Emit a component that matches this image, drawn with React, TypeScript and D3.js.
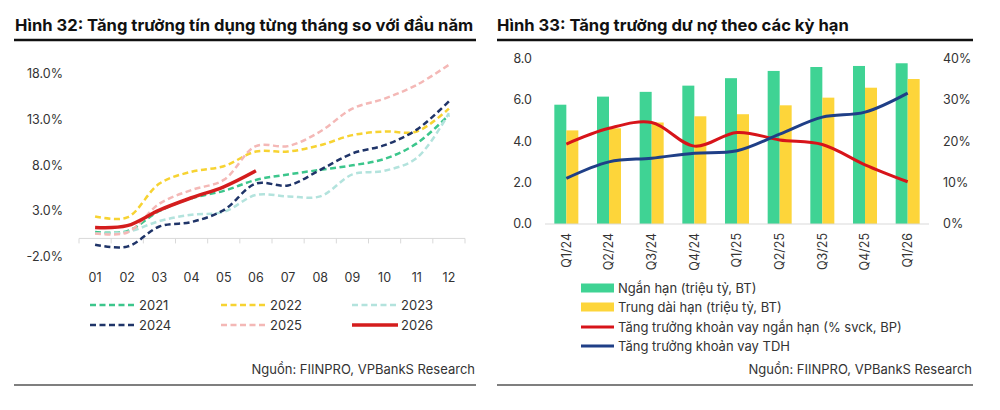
import React from 'react';
import * as d3 from 'd3';

// ---- Hình 32 data (% so với đầu năm) ----
const months = ['01', '02', '03', '04', '05', '06', '07', '08', '09', '10', '11', '12'];
const y2021 = [0.7, 0.8, 3.0, 4.4, 5.2, 6.4, 7.0, 7.5, 8.0, 8.7, 10.4, 13.5];
const y2022 = [2.4, 2.3, 6.0, 7.3, 7.9, 9.5, 9.5, 10.2, 11.3, 11.7, 11.7, 14.2];
const y2023 = [0.55, 0.7, 1.9, 2.6, 2.9, 4.75, 4.6, 4.6, 7.0, 7.4, 8.8, 13.7];
const y2024 = [-0.7, -0.9, 1.3, 1.8, 3.1, 6.0, 5.8, 7.5, 9.3, 10.2, 11.9, 15.0];
const y2025 = [0.55, 0.65, 3.8, 5.3, 6.4, 10.1, 10.1, 11.7, 14.2, 15.3, 16.8, 19.0];
const y2026 = [1.2, 1.4, 3.1, 4.45, 5.65, 7.4];
const leftTicks = [-2, 3, 8, 13, 18];

// ---- Hình 33 data ----
const quarters = ['Q1/24', 'Q2/24', 'Q3/24', 'Q4/24', 'Q1/25', 'Q2/25', 'Q3/25', 'Q4/25', 'Q1/26'];
const nganHan = [5.76, 6.15, 6.38, 6.68, 7.04, 7.39, 7.58, 7.63, 7.76];
const trungDaiHan = [4.52, 4.62, 4.9, 5.2, 5.3, 5.73, 6.1, 6.58, 7.0];
const tangTruongNH = [19.3, 23.1, 24.5, 18.8, 22.1, 20.3, 19.2, 14.3, 10.2];
const tangTruongTDH = [11.0, 15.0, 15.9, 17.1, 17.7, 21.7, 25.8, 27.0, 31.6];
const barTicks = [0, 2, 4, 6, 8];
const pctTicks = [0, 10, 20, 30, 40];

const font = 'Inter, "Noto Sans", sans-serif';
const txt = '#333';

const series32 = [
  { name: '2021', values: y2021, color: '#3cc68c', dash: '6,3.5', width: 2.5 },
  { name: '2022', values: y2022, color: '#f7d332', dash: '6,3.5', width: 2.5 },
  { name: '2023', values: y2023, color: '#b3e3dd', dash: '6,3.5', width: 2.5 },
  { name: '2024', values: y2024, color: '#1f3468', dash: '6,3.5', width: 2.5 },
  { name: '2025', values: y2025, color: '#f4b8b6', dash: '6,3.5', width: 2.5 },
  { name: '2026', values: y2026, color: '#d41d1d', dash: null, width: 3.5 },
];

const Chart32 = () => {
  const x = d3.scaleBand().domain(months).range([79, 465]);
  const y = d3.scaleLinear().domain([-2, 18]).range([256.7, 73.9]);
  const line = d3
    .line<number>()
    .x((_, i) => (x(months[i]) as number) + x.bandwidth() / 2)
    .y((d) => y(d))
    .curve(d3.curveCatmullRom.alpha(0.5));

  // legend order: row by row, 3 columns
  const legendCols = [90, 221, 352];
  const legendRows = [305, 325];

  return (
    <g>
      <text x={15} y={31} fontSize={16.6} fontWeight={700} fill="#111">
        Hình 32: Tăng trưởng tín dụng từng tháng so với đầu năm
      </text>
      <line x1={14} x2={476} y1={40} y2={40} stroke="#111" strokeWidth={2.5} />

      {leftTicks.map((t) => (
        <text key={t} x={63} y={y(t)} dy="0.35em" textAnchor="end" fontSize={12.5} fill={txt}>
          {t.toFixed(1)}%
        </text>
      ))}

      <line x1={79} x2={465} y1={y(0)} y2={y(0)} stroke="#d9d9d9" strokeWidth={1} />
      {d3.range(months.length + 1).map((i) => {
        const xx = 79 + i * x.step();
        return <line key={i} x1={xx} x2={xx} y1={y(0)} y2={y(0) + 5} stroke="#d9d9d9" />;
      })}
      {months.map((m) => (
        <text
          key={m}
          x={(x(m) as number) + x.bandwidth() / 2}
          y={278}
          dy="0.35em"
          textAnchor="middle"
          fontSize={12.5}
          fill={txt}
        >
          {m}
        </text>
      ))}

      {series32.map((s) => (
        <path
          key={s.name}
          d={line(s.values) || ''}
          fill="none"
          stroke={s.color}
          strokeWidth={s.width}
          strokeDasharray={s.dash || undefined}
        />
      ))}

      {series32.map((s, i) => {
        const lx = legendCols[i % 3];
        const ly = legendRows[Math.floor(i / 3)];
        return (
          <g key={s.name}>
            <line
              x1={lx}
              x2={lx + 46}
              y1={ly}
              y2={ly}
              stroke={s.color}
              strokeWidth={s.width}
              strokeDasharray={s.dash || undefined}
            />
            <text x={lx + 49} y={ly} dy="0.35em" fontSize={13} fill={txt}>
              {s.name}
            </text>
          </g>
        );
      })}

      <text x={475} y={369} dy="0.35em" textAnchor="end" fontSize={13} fill={txt}>
        Nguồn: FIINPRO, VPBankS Research
      </text>
      <line x1={14} x2={476} y1={385} y2={385} stroke="#555" strokeWidth={1.5} />
    </g>
  );
};

const Chart33 = () => {
  const x = d3.scaleBand().domain(quarters).range([545, 929]);
  const yBar = d3.scaleLinear().domain([0, 8]).range([224, 58.3]);
  const yPct = d3.scaleLinear().domain([0, 40]).range([224, 58.3]);
  const cx = (i: number) => (x(quarters[i]) as number) + x.bandwidth() / 2;
  const barW = 12;
  const line = d3
    .line<number>()
    .x((_, i) => cx(i))
    .y((d) => yPct(d))
    .curve(d3.curveCatmullRom.alpha(0.5));

  const legend = [
    { label: 'Ngắn hạn (triệu tỷ, BT)', color: '#3fd394', kind: 'bar' },
    { label: 'Trung dài hạn (triệu tỷ, BT)', color: '#fdd53a', kind: 'bar' },
    { label: 'Tăng trưởng khoản vay ngắn hạn (% svck, BP)', color: '#d7141a', kind: 'line' },
    { label: 'Tăng trưởng khoản vay TDH', color: '#1f3f87', kind: 'line' },
  ];
  const legendRows = [288, 307, 327, 346];

  return (
    <g>
      <text x={497} y={31} fontSize={16.6} fontWeight={700} fill="#111">
        Hình 33: Tăng trưởng dư nợ theo các kỳ hạn
      </text>
      <line x1={497} x2={973} y1={40} y2={40} stroke="#111" strokeWidth={2.5} />

      {barTicks.map((t) => (
        <text key={t} x={532} y={yBar(t)} dy="0.35em" textAnchor="end" fontSize={12.5} fill={txt}>
          {t.toFixed(1)}
        </text>
      ))}
      {pctTicks.map((t) => (
        <text key={t} x={943} y={yPct(t)} dy="0.35em" fontSize={12.5} fill={txt}>
          {t}%
        </text>
      ))}

      {quarters.map((q, i) => (
        <g key={q}>
          <rect x={cx(i) - barW} y={yBar(nganHan[i])} width={barW} height={yBar(0) - yBar(nganHan[i])} fill="#3fd394" />
          <rect x={cx(i)} y={yBar(trungDaiHan[i])} width={barW} height={yBar(0) - yBar(trungDaiHan[i])} fill="#fdd53a" />
        </g>
      ))}
      <line x1={545} x2={929} y1={yBar(0)} y2={yBar(0)} stroke="#d9d9d9" />

      <path d={line(tangTruongNH) || ''} fill="none" stroke="#d7141a" strokeWidth={3} />
      <path d={line(tangTruongTDH) || ''} fill="none" stroke="#1f3f87" strokeWidth={3} />

      {quarters.map((q, i) => (
        <text
          key={q}
          transform={`translate(${cx(i)},233) rotate(-90)`}
          dy="0.35em"
          textAnchor="end"
          fontSize={12.5}
          fill={txt}
        >
          {q}
        </text>
      ))}

      {legend.map((l, i) => (
        <g key={l.label}>
          {l.kind === 'bar' ? (
            <rect x={581} y={legendRows[i] - 4.5} width={33} height={9} fill={l.color} />
          ) : (
            <line x1={581} x2={614} y1={legendRows[i]} y2={legendRows[i]} stroke={l.color} strokeWidth={3} />
          )}
          <text x={618} y={legendRows[i]} dy="0.35em" fontSize={13} fill={txt}>
            {l.label}
          </text>
        </g>
      ))}

      <text x={972} y={369} dy="0.35em" textAnchor="end" fontSize={13} fill={txt}>
        Nguồn: FIINPRO, VPBankS Research
      </text>
      <line x1={497} x2={973} y1={385} y2={385} stroke="#555" strokeWidth={1.5} />
    </g>
  );
};

export default function App() {
  return (
    <svg
      width={1000}
      height={410}
      style={{ position: 'absolute', left: 0, top: 0, background: '#fff', fontFamily: font }}
    >
      <Chart32 />
      <Chart33 />
    </svg>
  );
}
